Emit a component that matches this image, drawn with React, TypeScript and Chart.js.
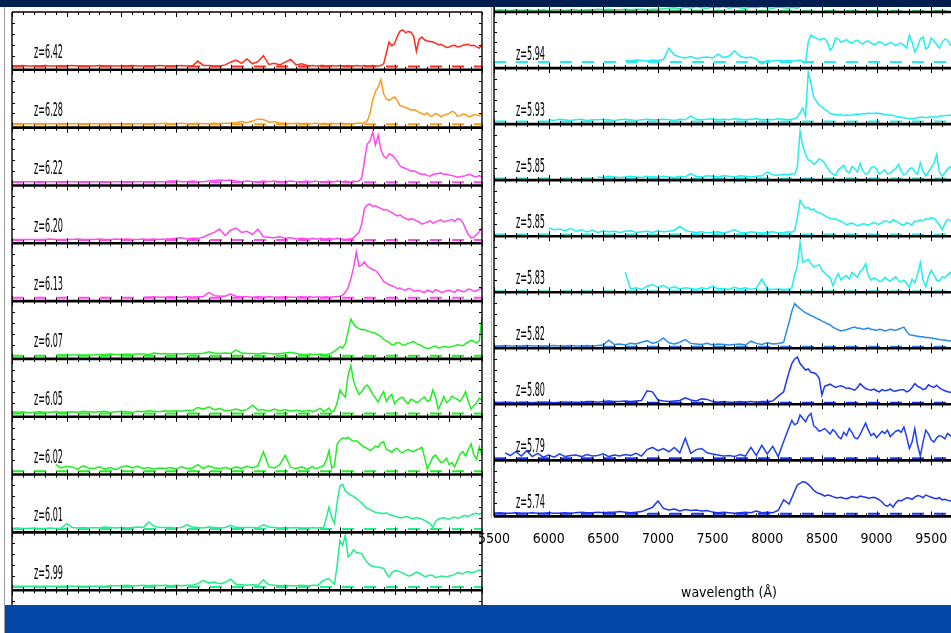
import React, { useEffect, useRef } from 'react';
import { Chart, registerables } from 'chart.js';

Chart.register(...registerables);

// ---------- data ----------
// wavelength grid (Å): 50 Å steps up to 8200, 25 Å steps beyond
const WAVE = [
  5500, 5550, 5600, 5650, 5700, 5750, 5800, 5850, 5900, 5950,
  6000, 6050, 6100, 6150, 6200, 6250, 6300, 6350, 6400, 6450,
  6500, 6550, 6600, 6650, 6700, 6750, 6800, 6850, 6900, 6950,
  7000, 7050, 7100, 7150, 7200, 7250, 7300, 7350, 7400, 7450,
  7500, 7550, 7600, 7650, 7700, 7750, 7800, 7850, 7900, 7950,
  8000, 8050, 8100, 8150, 8200,
  8225, 8250, 8275, 8300, 8325, 8350, 8375, 8400,
  8425, 8450, 8475, 8500, 8525, 8550, 8575, 8600,
  8625, 8650, 8675, 8700, 8725, 8750, 8775, 8800,
  8825, 8850, 8875, 8900, 8925, 8950, 8975, 9000,
  9025, 9050, 9075, 9100, 9125, 9150, 9175, 9200,
  9225, 9250, 9275, 9300, 9325, 9350, 9375, 9400,
  9425, 9450, 9475, 9500, 9525, 9550, 9575, 9600,
  9625, 9650, 9675, 9700, 9725, 9750, 9775, 9800,
];

const X_MIN = 5500;
const X_MAX = 9800;
const X_TICKS = [5500, 6000, 6500, 7000, 7500, 8000, 8500, 9000, 9500];
const X_MINOR_STEP = 100;

const _ = null;

// left column
const Z642 = [
  1, 1, 2, 1, 1, 1, 2, 1, 1, 1,
  1, 2, 1, 1, 1, 1, 2, 1, 1, 1,
  1, 1, 2, 1, 1, 1, 1, 2, 1, 1,
  1, 2, 1, 1, 10, 2, 2, 1, 1, 3,
  8, 12, 6, 14, 5, 9, 20, 4, 6, 3,
  8, 13, 3, 5, 2,
  1, 2, 1, 1, 2, 2, 1, 1,
  2, 1, 1, 2, 1, 1, 2, 1,
  1, 2, 1, 1, 2, 1, 1, 2,
  1, 1, 2, 5, 25, 45, 38, 42,
  55, 65, 67, 62, 64, 63, 55, 28,
  50, 54, 49, 47, 46, 45, 43, 40,
  41, 38, 35, 36, 38, 39, 36, 37,
  39, 40, 41, 38, 39, 36, 34, 40,
];
const Z628 = [
  1, 1, 1, 1, 1, 1, 1, 1, 1, 1,
  1, 1, 1, 1, 1, 1, 1, 1, 1, 1,
  1, 1, 1, 1, 1, 1, 1, 1, 2, 1,
  1, 2, 1, 1, 2, 1, 1, 2, 1, 2,
  2, 3, 5, 3, 6, 10, 9, 4, 5, 2,
  2, 1, 2, 1, 2,
  1, 1, 2, 1, 1, 2, 1, 1,
  2, 1, 1, 1, 2, 1, 1, 1,
  1, 2, 2, 2, 3, 6, 20, 44,
  60, 68, 82, 56, 46, 44, 47, 50,
  44, 34, 33, 31, 29, 26, 27, 25,
  22, 20, 18, 21, 15, 16, 20, 18,
  14, 17, 18, 20, 24, 22, 15, 16,
  19, 18, 14, 15, 18, 17, 16, 19,
];
const Z622 = [
  1, 1, 1, 1, 1, 1, 1, 1, 1, 1,
  1, 1, 1, 1, 1, 1, 1, 1, 1, 1,
  1, 1, 1, 1, 1, 1, 1, 1, 1, 2,
  2, 1, 1, 2, 1, 1, 2, 3, 4, 3,
  4, 2, 1, 2, 1, 1, 2, 1, 2, 1,
  1, 2, 1, 1, 2,
  1, 1, 2, 1, 1, 1, 1, 2,
  1, 1, 2, 1, 1, 2, 1, 1,
  2, 1, 2, 8, 40, 70, 75, 92,
  68, 86, 60, 48, 44, 52, 50, 45,
  38, 30, 27, 25, 23, 20, 21, 19,
  16, 14, 15, 12, 11, 14, 15, 16,
  17, 14, 15, 13, 12, 11, 9, 10,
  11, 12, 14, 13, 11, 10, 12, 9,
];
const Z620 = [
  1, 1, 1, 1, 1, 1, 1, 2, 1, 1,
  1, 1, 2, 1, 1, 1, 2, 1, 1, 2,
  1, 2, 1, 1, 2, 1, 2, 1, 2, 2,
  3, 4, 2, 3, 3, 5, 10, 14, 20, 8,
  18, 22, 14, 16, 10, 20, 6, 5, 4, 6,
  3, 4, 2, 3, 2,
  2, 3, 2, 2, 3, 2, 2, 3,
  2, 2, 3, 2, 2, 1, 2, 2,
  4, 9, 14, 30, 58, 64, 66, 61,
  63, 60, 58, 55, 56, 53, 50, 47,
  44, 46, 42, 40, 37, 39, 38, 35,
  33, 29, 31, 33, 35, 31, 33, 35,
  37, 33, 35, 36, 38, 34, 39, 38,
  32, 20, 10, 4, 5, 10, 15, 22,
];
const Z613 = [
  _, _, _, _, _, _, _, _, _, _,
  _, _, _, _, _, _, _, _, _, _,
  _, _, _, _, 1, 1, 2, 1, 1, 2,
  1, 1, 2, 1, 2, 2, 10, 4, 3, 3,
  7, 3, 2, 2, 1, 2, 1, 2, 1, 1,
  2, 1, 1, 2, 1,
  2, 1, 1, 2, 1, 1, 2, 1,
  1, 2, 2, 3, 5, 10, 18, 35,
  55, 84, 58, 60, 66, 58, 55, 52,
  50, 45, 38, 30, 27, 24, 22, 20,
  17, 18, 15, 14, 17, 16, 12, 13,
  14, 11, 10, 14, 12, 10, 15, 13,
  10, 11, 13, 14, 12, 10, 15, 13,
  11, 12, 16, 15, 12, 13, 16, 17,
];
const Z607 = [
  _, _, _, _, _, _, _, _, 1, 1,
  1, 1, 1, 1, 1, 1, 2, 2, 3, 2,
  2, 3, 2, 3, 3, 2, 5, 3, 4, 3,
  4, 3, 4, 3, 4, 4, 7, 5, 4, 5,
  4, 10, 5, 4, 4, 3, 5, 4, 3, 4,
  5, 6, 4, 2, 2,
  3, 2, 2, 2, 3, 2, 2, 3,
  5, 8, 12, 16, 14, 22, 45, 67,
  58, 52, 50, 47, 48, 45, 44, 42,
  41, 38, 35, 30, 27, 24, 20, 21,
  24, 23, 19, 20, 23, 24, 26, 22,
  20, 18, 15, 13, 14, 16, 18, 14,
  15, 17, 16, 15, 17, 18, 20, 19,
  18, 22, 25, 28, 26, 23, 27, 70,
];
const Z605 = [
  3, 2, 3, 1, 2, 3, 2, 2, 3, 2,
  2, 3, 2, 4, 3, 2, 3, 4, 2, 3,
  4, 3, 2, 4, 3, 5, 4, 3, 5, 4,
  5, 4, 6, 5, 11, 8, 12, 7, 9, 5,
  6, 8, 5, 7, 15, 6, 7, 4, 8, 5,
  7, 4, 6, 4, 5,
  6, 3, 5, 8, 9, 4, 6, 10,
  3, 5, 20, 43, 35, 30, 70, 88,
  60, 45, 35, 40, 48, 52, 45, 35,
  28, 21, 32, 40, 22, 30, 35, 18,
  24, 28, 30, 22, 18, 26, 24, 20,
  22, 27, 30, 22, 25, 43, 30, 8,
  18, 31, 20, 24, 32, 28, 26, 22,
  30, 40, 22, 8, 14, 20, 28, 24,
];
const Z602 = [
  _, _, _, _, _, _, _, _, 12, 6,
  9, 8, 4, 10, 6, 5, 8, 4, 7, 3,
  8, 10, 6, 9, 5, 7, 4, 6, 5, 7,
  4, 8, 5, 6, 12, 5, 10, 6, 5, 7,
  4, 8, 5, 9, 6, 10, 36, 8, 6, 12,
  29, 7, 5, 8, 4,
  6, 9, 5, 6, 8, 10, 20, 38,
  6, 10, 50, 57, 61, 60, 62, 58,
  55, 56, 52, 48, 44, 42, 38, 41,
  46, 44, 52, 54, 40, 38, 35, 40,
  42, 36, 34, 38, 40, 37, 36, 39,
  41, 44, 25, 4, 15, 26, 30, 22,
  16, 18, 24, 12, 16, 8, 20, 32,
  36, 28, 40, 50, 30, 22, 45, 30,
];
const Z601 = [
  1, 2, 1, 1, 2, 1, 1, 2, 1, 2,
  10, 3, 2, 3, 2, 3, 2, 4, 3, 2,
  3, 2, 3, 4, 3, 13, 5, 3, 3, 3,
  2, 3, 8, 4, 3, 2, 4, 3, 2, 3,
  7, 3, 3, 3, 3, 2, 8, 4, 3, 2,
  3, 2, 3, 2, 2,
  2, 3, 2, 2, 3, 2, 20, 40,
  22, 10, 50, 79, 82, 70, 66, 62,
  60, 56, 52, 48, 42, 38, 36, 33,
  31, 30, 29, 28, 30, 27, 25, 24,
  22, 21, 21, 23, 22, 20, 19, 21,
  20, 18, 16, 13, 10, 3, 14, 18,
  20, 21, 19, 18, 21, 22, 20, 21,
  24, 25, 23, 26, 28, 29, 27, 30,
];
const Z599 = [
  1, 1, 1, 1, 1, 1, 1, 1, 1, 1,
  1, 1, 1, 1, 1, 1, 1, 1, 2, 2,
  2, 3, 2, 2, 3, 2, 3, 2, 3, 2,
  3, 2, 3, 3, 6, 12, 7, 9, 6, 8,
  14, 5, 4, 3, 4, 3, 13, 4, 3, 2,
  3, 2, 2, 3, 2,
  2, 3, 3, 2, 8, 12, 14, 15,
  10, 5, 40, 85, 76, 95, 55, 60,
  68, 63, 62, 61, 52, 45, 40, 38,
  37, 36, 35, 34, 25, 18, 26, 30,
  29, 28, 25, 23, 20, 21, 24, 27,
  25, 22, 19, 20, 22, 21, 17, 18,
  20, 19, 18, 20, 21, 23, 26, 25,
  24, 27, 28, 26, 27, 29, 31, 29,
];

// right column
const ZTOP = [
  1, 2, 1, 1, 2, 1, 2, 1, 1, 2,
  1, 2, 2, 1, 2, 2, 1, 2, 2, 3,
  2, 3, 2, 2, 3, 2, 3, 3, 2, 3,
  3, 4, 5, 6, 4, 7, 5, 8, 6, 5,
  7, 6, 8, 5, 7, 6, 5, 7, 6, 8,
  6, 5, 7, 6, 5,
  7, 6, 5, 8, 12, 20, 35, 45,
  58, 60, 54, 55, 52, 50, 46, 48,
  47, 45, 40, 42, 43, 40, 36, 38,
  41, 40, 37, 36, 39, 38, 33, 35,
  38, 37, 34, 36, 36, 34, 32, 35,
  37, 38, 35, 33, 34, 36, 37, 35,
  33, 34, 35, 36, 38, 35, 33, 34,
  36, 37, 34, 35, 37, 36, 33, 34,
];
const Z594 = [
  _, _, _, _, _, _, _, _, _, _,
  _, _, _, _, _, _, _, _, _, _,
  _, _, _, _, 3, 2, 4, 3, 2, 4,
  3, 5, 28, 14, 10, 8, 11, 7, 9, 10,
  8, 16, 9, 12, 22, 12, 8, 10, 6, -4,
  3, 2, 3, 2, 3,
  2, 2, 3, 4, 1, -2, 40, 54,
  50, 48, 44, 46, 47, 40, 24, 30,
  48, 46, 40, 42, 45, 40, 38, 42,
  44, 39, 36, 41, 42, 38, 35, 37,
  41, 39, 34, 36, 39, 37, 33, 36,
  38, 34, 28, 54, 40, 20, 30, 46,
  50, 26, 30, 48, 42, 35, 28, 40,
  46, 44, 34, 38, 45, 42, 36, 40,
];
const Z593 = [
  _, _, _, _, _, _, _, _, _, _,
  3, 2, 4, 3, 2, 3, 4, 2, 3, 3,
  4, 3, 2, 3, 4, 3, 2, 3, 4, 3,
  3, 4, 3, 2, 4, 3, 10, 4, 3, 4,
  5, 3, 4, 3, 5, 4, 3, 4, 5, 3,
  4, 3, 5, 4, 3,
  4, 5, 8, 16, 25, 10, 92, 72,
  45, 38, 30, 28, 22, 20, 15, 14,
  13, 12, 13, 11, 12, 11, 12, 13,
  14, 13, 15, 14, 16, 15, 15, 16,
  15, 14, 13, 12, 12, 11, 10, 9,
  8, 7, 6, 5, 5, 6, 7, 8,
  8, 7, 8, 9, 9, 8, 10, 10,
  11, 11, 12, 10, 11, 11, 12, 10,
];
const Z585A = [
  _, _, _, _, _, _, _, _, _, _,
  _, _, _, _, _, _, _, _, _, 3,
  2, 4, 3, 2, 3, 4, 3, 2, 4, 3,
  3, 4, 3, 2, 4, 3, 9, 4, 3, 5,
  4, 3, 5, 4, 3, 5, 4, 3, 4, 5,
  12, 7, 6, 8, 7,
  9, 8, 20, 87, 60, 45, 34, 32,
  26, 30, 36, 34, 28, 20, 12, 8,
  6, 16, 20, 24, 14, 10, 22, 18,
  12, 28, 14, 8, 10, 20, 22, 17,
  8, 12, 16, 8, 10, 15, 18, 26,
  14, 6, 10, 18, 20, 12, 8, 29,
  14, 5, 12, 20, 28, 44, 12, 4,
  10, 18, 22, 12, 8, 16, 20, 10,
];
const Z585B = [
  _, _, _, _, _, _, _, _, _, _,
  12, 9, 10, 7, 11, 6, 9, 5, 8, 4,
  7, 5, 6, 4, 6, 7, 4, 5, 6, 4,
  7, 5, 6, 8, 15, 8, 5, 4, 5, 3,
  4, 5, 3, 5, 9, 4, 3, 5, 4, 3,
  4, 5, 3, 4, 5,
  4, 8, 30, 63, 55, 48, 50, 45,
  47, 42, 40, 38, 35, 32, 30, 28,
  29, 26, 24, 22, 18, 20, 21, 19,
  16, 18, 20, 19, 17, 20, 22, 20,
  19, 22, 25, 24, 22, 27, 25, 22,
  19, 17, 22, 20, 18, 25, 24, 27,
  25, 29, 28, 31, 30, 24, 18, 9,
  20, 28, 26, 24, 22, 26, 28, 25,
];
const Z583 = [
  _, _, _, _, _, _, _, _, _, _,
  _, _, _, _, _, _, _, _, _, _,
  _, _, _, _, 35, 4, 6, 3, 9, 12,
  7, 10, 5, 8, 4, 6, 5, 3, 6, 4,
  9, 4, 5, 3, 7, 4, 6, 3, 5, 22,
  4, 3, 4, 3, 4,
  6, 30, 45, 88, 52, 55, 58, 50,
  44, 46, 48, 38, 33, 28, 25, 10,
  22, 32, 20, 26, 28, 22, 34, 30,
  25, 36, 40, 50, 28, 20, 24, 22,
  18, 18, 25, 21, 18, 23, 26, 19,
  17, 20, 14, 6, 22, 15, 30, 52,
  20, 8, 26, 38, 30, 20, 18, 26,
  24, 30, 34, 18, 22, 28, 30, 22,
];
const Z582 = [
  1, 1, 2, 1, 1, 1, 2, 1, 1, 1,
  1, 2, 1, 1, 2, 1, 1, 2, 1, 2,
  3, 12, 4, 5, 3, 6, 5, 8, 11, 6,
  9, 16, 7, 5, 8, 13, 6, 5, 4, 6,
  3, 5, 4, 3, 4, 5, 3, 10, 6, 4,
  7, 5, 6, 8, 45,
  65, 79, 74, 70, 66, 62, 60, 57,
  55, 52, 50, 47, 45, 42, 40, 36,
  33, 31, 29, 30, 31, 33, 35, 36,
  34, 34, 32, 33, 34, 32, 31, 30,
  32, 31, 29, 30, 32, 31, 30, 32,
  34, 36, 28, 22, 21, 20, 19, 18,
  18, 17, 17, 16, 15, 14, 13, 12,
  12, 11, 11, 10, 10, 11, 9, 10,
];
const Z580 = [
  1, 0, 1, 1, 0, 1, 1, 0, 1, 1,
  1, 0, 1, 1, 1, 1, 1, 2, 2, 1,
  2, 3, 2, 2, 3, 2, 3, 4, 22, 20,
  5, 3, 2, 3, 4, 9, 5, 3, 7, 6,
  2, 1, 2, 1, 1, 2, 1, 2, 1, 2,
  2, 3, 12, 20, 57,
  72, 80, 84, 72, 66, 60, 62, 56,
  55, 52, 45, 14, 30, 32, 34, 31,
  28, 30, 31, 29, 26, 27, 25, 23,
  28, 35, 30, 26, 24, 23, 25, 22,
  20, 24, 22, 23, 25, 22, 21, 23,
  24, 24, 20, 22, 28, 35, 30, 28,
  24, 26, 33, 30, 28, 32, 27, 24,
  22, 20, 19, 18, 20, 22, 23, 20,
];
const Z579 = [
  _, _, 10, 5, 12, 4, 14, 3, 9, 2,
  6, 2, 8, 3, 5, 6, 3, 7, 4, 5,
  8, 3, 6, 4, 7, 5, 9, 4, 16, 20,
  14, 18, 12, 20, 10, 37, 9, 16, 18, 10,
  8, 6, 4, 5, 3, 7, 4, 20, 5, 24,
  8, 22, 3, 31, 58,
  70, 62, 65, 80, 74, 68, 78, 83,
  60, 56, 50, 52, 55, 50, 45, 53,
  48, 40, 36, 48, 42, 55, 48, 38,
  36, 44, 55, 65, 52, 42, 46, 38,
  44, 50, 46, 52, 40, 45, 50, 52,
  48, 58, 40, 18, 30, 55, 25, 4,
  30, 52, 45, 34, 30, 38, 42, 40,
  36, 46, 42, 38, 30, 44, 48, 40,
];
const Z574 = [
  1, 2, 1, 1, 2, 1, 1, 2, 1, 1,
  2, 1, 1, 2, 1, 2, 3, 2, 2, 3,
  2, 3, 3, 4, 3, 2, 3, 4, 8, 12,
  24, 10, 7, 9, 5, 8, 6, 7, 5, 6,
  3, 2, 3, 2, 1, 2, 3, 2, 5, 2,
  3, 2, 6, 26, 18,
  30, 42, 54, 57, 60, 59, 55, 50,
  44, 40, 38, 36, 33, 35, 34, 32,
  30, 30, 31, 29, 28, 30, 32, 31,
  30, 33, 32, 31, 29, 30, 31, 29,
  26, 22, 16, 14, 18, 12, 20, 25,
  24, 27, 30, 29, 27, 31, 34, 33,
  30, 35, 33, 31, 29, 28, 30, 26,
  27, 25, 24, 28, 29, 27, 25, 26,
];

const LEFT_LABELS = ['z=6.42', 'z=6.28', 'z=6.22', 'z=6.20', 'z=6.13', 'z=6.07', 'z=6.05', 'z=6.02', 'z=6.01', 'z=5.99', ''];
const LEFT_SERIES = [Z642, Z628, Z622, Z620, Z613, Z607, Z605, Z602, Z601, Z599, null];
const LEFT_COLORS = ['#ff2b1c', '#ff9a1a', '#ff48f0', '#ff48f0', '#ff48f0', '#22ee22', '#22ee22', '#22ee22', '#22ee8a', '#22ee8a', '#22ee8a'];
const LEFT_YMIN = [-6, -6, -6, -6, -6, -6, -6, -6, -6, -6, -6];

const RIGHT_LABELS = ['', 'z=5.94', 'z=5.93', 'z=5.85', 'z=5.85', 'z=5.83', 'z=5.82', 'z=5.80', 'z=5.79', 'z=5.74'];
const RIGHT_SERIES = [ZTOP, Z594, Z593, Z585A, Z585B, Z583, Z582, Z580, Z579, Z574];
const RIGHT_COLORS = ['#22ee8a', '#22eeee', '#22eeee', '#22eeee', '#22eeee', '#22eeee', '#2a8aee', '#1c36f0', '#2040f0', '#1c36f0'];
const RIGHT_YMIN = [-2, -12, -5, -3, -3, -2, -3, -3, -4, -5];

const Y_MAX = 100;
const X_TITLE = 'wavelength (Å)';

const FAMILY = '"Liberation Sans Narrow", "DejaVu Sans Condensed", "Liberation Sans", sans-serif';

// ---------- chart helpers ----------
function makeFramePlugin(labels: string[], labelInset: number, labelDy: number) {
  return {
    id: 'rowFrame',
    afterDatasetsDraw(chart: any) {
      const { ctx, chartArea: a, scales } = chart;
      const xs = scales.x;
      ctx.save();
      ctx.strokeStyle = '#000';
      ctx.fillStyle = '#000';
      labels.forEach((label, i) => {
        const ys = scales['r' + i];
        const top = ys.top;
        const bottom = ys.bottom;
        ctx.lineWidth = 1;
        ctx.beginPath();
        for (let w = X_MIN; w <= X_MAX; w += X_MINOR_STEP) {
          const px = Math.round(xs.getPixelForValue(w)) + 0.5;
          const len = X_TICKS.includes(w) ? 5 : 3;
          ctx.moveTo(px, top);
          ctx.lineTo(px, top + len);
          ctx.moveTo(px, bottom);
          ctx.lineTo(px, bottom - len);
        }
        for (let v = 20; v < Y_MAX; v += 20) {
          const py = Math.round(ys.getPixelForValue(v)) + 0.5;
          ctx.moveTo(a.left, py);
          ctx.lineTo(a.left + 3, py);
          ctx.moveTo(a.right, py);
          ctx.lineTo(a.right - 3, py);
        }
        ctx.stroke();
        ctx.lineWidth = 2.6;
        ctx.beginPath();
        ctx.moveTo(a.left, bottom);
        ctx.lineTo(a.right, bottom);
        ctx.stroke();
        if (label) {
          ctx.font = `19px ${FAMILY}`;
          ctx.textBaseline = 'middle';
          ctx.textAlign = 'left';
          const tw = ctx.measureText(label).width;
          ctx.save();
          ctx.translate(a.left + labelInset, bottom - labelDy);
          ctx.scale(29 / tw, 1);
          ctx.fillText(label, 0, 0);
          ctx.restore();
        }
      });
      ctx.lineWidth = 1.4;
      ctx.beginPath();
      ctx.moveTo(a.left, a.top);
      ctx.lineTo(a.left, a.bottom);
      ctx.moveTo(a.right, a.top);
      ctx.lineTo(a.right, a.bottom);
      ctx.moveTo(a.left, a.top);
      ctx.lineTo(a.right, a.top);
      ctx.stroke();
      ctx.restore();
    },
  };
}

function makeConfig(
  labels: string[],
  series: any[],
  colors: string[],
  yMin: number[],
  showX: boolean,
  padding: any,
  labelDy: number,
): any {
  const n = labels.length;
  const scales: any = {
    x: showX
      ? {
          type: 'linear',
          position: 'bottom',
          min: X_MIN,
          max: X_MAX,
          grid: { display: false, drawTicks: false },
          border: { display: false },
          afterBuildTicks: (s: any) => {
            s.ticks = X_TICKS.map((value) => ({ value }));
          },
          ticks: {
            autoSkip: false,
            maxRotation: 0,
            minRotation: 0,
            padding: 15,
            color: '#000',
            font: { family: FAMILY, size: 14 },
            callback: (v: any) => String(v),
          },
          title: {
            display: true,
            text: X_TITLE,
            color: '#000',
            font: { family: FAMILY, size: 14 },
            padding: { top: 22, bottom: 3 },
          },
          afterFit: (s: any) => {
            s.paddingLeft = 0;
            s.paddingRight = 0;
          },
        }
      : { type: 'linear', min: X_MIN, max: X_MAX, display: false },
  };
  const datasets: any[] = [];
  for (let i = 0; i < n; i++) {
    const id = 'r' + i;
    scales[id] = {
      type: 'linear',
      position: 'left',
      stack: 'rows',
      stackWeight: 1,
      weight: n - i,
      min: yMin[i],
      max: Y_MAX,
      display: false,
    };
    const s = series[i];
    if (!s) continue;
    datasets.push({
      data: WAVE.map((w, j) => ({ x: w, y: s[j] })),
      borderColor: colors[i],
      borderWidth: 1.5,
      pointRadius: 0,
      tension: 0,
      spanGaps: false,
      yAxisID: id,
      order: 0,
    });
    datasets.push({
      data: [
        { x: X_MIN, y: 0 },
        { x: X_MAX, y: 0 },
      ],
      borderColor: colors[i],
      borderWidth: 2,
      borderDash: [12, 10],
      pointRadius: 0,
      yAxisID: id,
      order: 1,
    });
  }
  return {
    type: 'line',
    data: { datasets },
    options: {
      animation: false,
      responsive: false,
      events: [],
      layout: { padding },
      plugins: { legend: { display: false }, tooltip: { enabled: false } },
      scales,
    },
    plugins: [makeFramePlugin(labels, 22, labelDy)],
  };
}

function ChartCanvas({ config, left, top, width, height }: any) {
  const ref = useRef<HTMLCanvasElement>(null);
  useEffect(() => {
    const chart = new Chart(ref.current as HTMLCanvasElement, config);
    return () => chart.destroy();
  }, []);
  return (
    <canvas
      ref={ref}
      width={width}
      height={height}
      style={{ position: 'absolute', left, top, width, height }}
    />
  );
}

export default function App() {
  const leftConfig = makeConfig(LEFT_LABELS, LEFT_SERIES, LEFT_COLORS, LEFT_YMIN, false, { left: 4, right: 4, top: 4, bottom: 4 }, 16.5);
  const rightConfig = makeConfig(RIGHT_LABELS, RIGHT_SERIES, RIGHT_COLORS, RIGHT_YMIN, true, { left: 24, right: 4, top: 4, bottom: 0 }, 13.5);
  return (
    <div
      style={{
        position: 'fixed',
        left: 0,
        top: 0,
        width: 951,
        height: 633,
        overflow: 'hidden',
        background: '#ffffff',
      }}
    >
      <ChartCanvas config={leftConfig} left={8} top={8} width={478} height={644} />
      <ChartCanvas config={rightConfig} left={470} top={-48} width={498} height={653} />
      <div style={{ position: 'absolute', left: 4, top: 7, width: 1, height: 626, background: '#9a9a9a' }} />
      <div style={{ position: 'absolute', left: 491, top: 7, width: 1, height: 511, background: '#b0b0b0' }} />
      <div style={{ position: 'absolute', left: 0, top: 0, width: 951, height: 7, background: '#001f50' }} />
      <div style={{ position: 'absolute', left: 5, top: 605, width: 946, height: 28, background: '#0348a6' }} />
    </div>
  );
}
